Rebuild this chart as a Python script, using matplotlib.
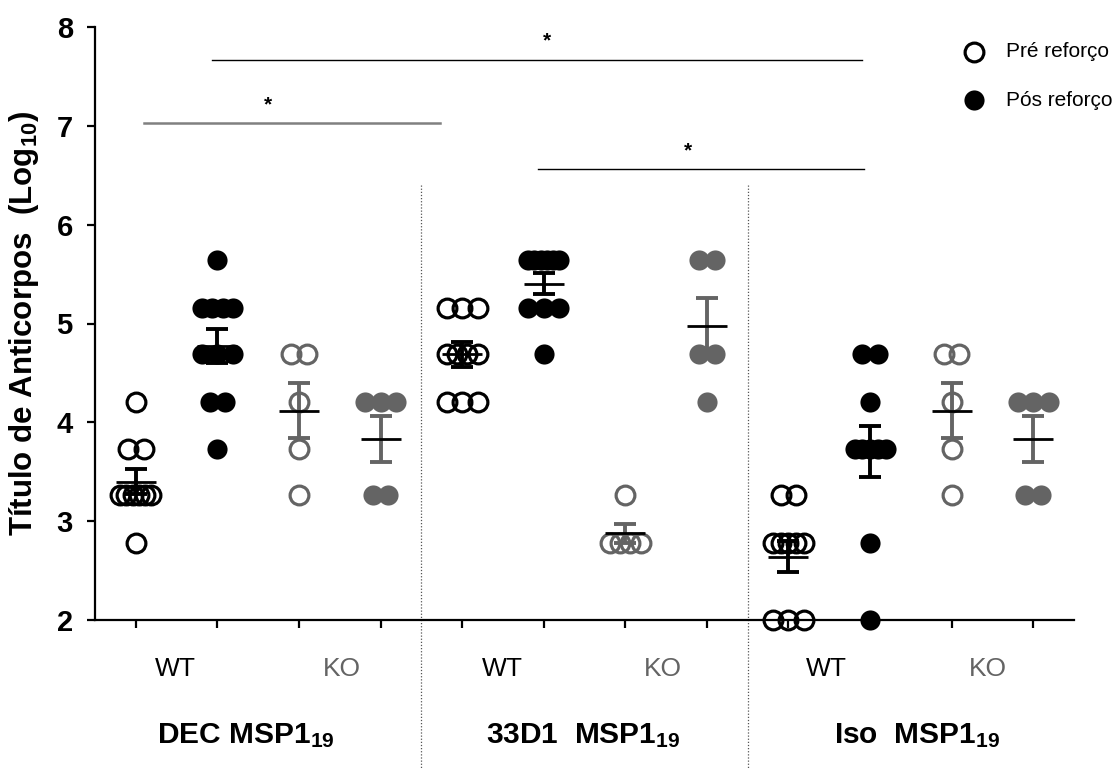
import numpy as np
import matplotlib
matplotlib.use("Agg")
import matplotlib.pyplot as plt

plt.rcParams['font.family'] = ['Liberation Sans', 'DejaVu Sans']
plt.rcParams['mathtext.default'] = 'regular'

# ---------------- data (log10 titers) ----------------
group_labels = [r'DEC MSP1$_{19}$', r'33D1  MSP1$_{19}$', r'Iso  MSP1$_{19}$']
strain_labels = ['WT', 'KO']
legend_labels = ['Pré reforço', 'Pós reforço']

dec_wt_pre = [4.21, 3.73, 3.73, 3.26, 3.26, 3.26, 3.26, 3.26, 3.26, 2.78]
dec_wt_post = [5.64, 5.16, 5.16, 5.16, 5.16, 4.69, 4.69, 4.69, 4.21, 4.21, 3.73]
dec_ko_pre = [4.69, 4.69, 4.21, 3.73, 3.26]
dec_ko_post = [4.21, 4.21, 4.21, 3.26, 3.26]
d33_wt_pre = [5.16, 5.16, 5.16, 4.69, 4.69, 4.69, 4.69, 4.21, 4.21, 4.21]
d33_wt_post = [5.64, 5.64, 5.64, 5.64, 5.64, 5.64, 5.16, 5.16, 5.16, 4.69]
d33_ko_pre = [3.26, 2.78, 2.78, 2.78, 2.78]
d33_ko_post = [5.64, 5.64, 4.69, 4.69, 4.21]
iso_wt_pre = [3.26, 3.26, 2.78, 2.78, 2.78, 2.78, 2.78, 2.0, 2.0, 2.0]
iso_wt_post = [4.69, 4.69, 4.21, 3.73, 3.73, 3.73, 3.73, 3.73, 2.78, 2.0]
iso_ko_pre = [4.69, 4.69, 4.21, 3.73, 3.26]
iso_ko_post = [4.21, 4.21, 4.21, 3.26, 3.26]

series = [dec_wt_pre, dec_wt_post, dec_ko_pre, dec_ko_post,
          d33_wt_pre, d33_wt_post, d33_ko_pre, d33_ko_post,
          iso_wt_pre, iso_wt_post, iso_ko_pre, iso_ko_post]
is_post = [False, True] * 6
is_ko = [False, False, True, True] * 3

# significance brackets: (x start, x end, y)
sig_x0 = [1.10, 1.94, 5.93]
sig_x1 = [4.73, 9.90, 9.93]
sig_y = [7.03, 7.67, 6.56]
sig_star_x = [2.62, 6.04, 7.77]
sig_colors = ['#808080', 'black', 'black']
sig_lw = [1.8, 1.0, 1.0]

GREY = '#646464'

fig = plt.figure(figsize=(11.15, 7.69), dpi=100)
ax = fig.add_axes([95/1115, 1 - 620/769, (1074-95)/1115, (620-27)/769])
ax.set_xlim(0.5, 12.5)
ax.set_ylim(2, 8)

step, cap = 0.19, 0.38
for i, vals in enumerate(series):
    xc = i + 1
    color = GREY if is_ko[i] else 'black'
    vals = np.asarray(vals)
    xs = np.zeros(len(vals))
    for v in np.unique(vals):
        idx = np.where(vals == v)[0]
        k = len(idx)
        w = min((k - 1) * step, cap)
        offs = np.linspace(-w / 2, w / 2, k) if k > 1 else np.array([0.0])
        xs[idx] = xc + offs
    if is_post[i]:
        ax.plot(xs, vals, 'o', ms=14.5, mfc=color, mec=color, mew=0,
                clip_on=False, zorder=3)
    else:
        ax.plot(xs, vals, 'o', ms=13.5, mfc='none', mec=color, mew=2.3,
                clip_on=False, zorder=3)
    m = vals.mean()
    sem = vals.std(ddof=1) / np.sqrt(len(vals))
    ax.errorbar([xc], [m], yerr=[sem], fmt='none', ecolor=color, elinewidth=2.8,
                capsize=8, capthick=2.8, zorder=4)
    ax.hlines(m, xc - 0.245, xc + 0.245, color='black', lw=2.0, zorder=5)

# separators (extend below axes)
for xs_ in (4.5, 8.5):
    ax.plot([xs_, xs_], [6.4, 2 - 149/98.8], color='#555555', lw=0.9,
            ls=(0, (1, 1.5)), clip_on=False, zorder=1)

# significance lines
for x0, x1, y, sx, c, lw in zip(sig_x0, sig_x1, sig_y, sig_star_x, sig_colors, sig_lw):
    ax.plot([x0, x1], [y, y], color=c, lw=lw, clip_on=False)
    ax.text(sx, y + 0.09, '*', ha='center', va='bottom', fontsize=15,
            fontweight='bold')

# axes styling
for s in ('top', 'right'):
    ax.spines[s].set_visible(False)
for s in ('left', 'bottom'):
    ax.spines[s].set_linewidth(1.6)
ax.set_xticks(np.arange(1, 13))
ax.set_xticklabels([])
ax.set_yticks(np.arange(2, 9))
ax.tick_params(axis='both', direction='out', length=6, width=1.6)
ax.tick_params(axis='y', labelsize=21, pad=10)
for lab in ax.get_yticklabels():
    lab.set_fontweight('bold')

# WT/KO labels and group labels
wt_x = [1.48, 5.49, 9.46]
ko_x = [3.52, 7.46, 11.45]
grp_x = [2.35, 6.48, 10.58]
for j in range(3):
    ax.text(wt_x[j], 1.433, strain_labels[0], ha='center', va='baseline',
            fontsize=19, color='black', clip_on=False)
    ax.text(ko_x[j], 1.433, strain_labels[1], ha='center', va='baseline',
            fontsize=19, color=GREY, clip_on=False)
    ax.text(grp_x[j], 0.755, group_labels[j], ha='center', va='baseline',
            fontsize=21.5, fontweight='bold', clip_on=False)

fig.text(24/1115, 1 - 323/769, r'Título de Anticorpos  (Log$_{10}$)', rotation=90,
         ha='center', va='center', fontsize=22.5, fontweight='bold')

# legend
ax.plot([11.28], [7.75], 'o', ms=13.5, mfc='none', mec='black', mew=2.3, clip_on=False)
ax.plot([11.28], [7.26], 'o', ms=14.5, mfc='black', mec='black', mew=0, clip_on=False)
ax.text(11.67, 7.75, legend_labels[0], ha='left', va='center', fontsize=15, clip_on=False)
ax.text(11.67, 7.26, legend_labels[1], ha='left', va='center', fontsize=15, clip_on=False)

fig.savefig('out.png', dpi=100)
